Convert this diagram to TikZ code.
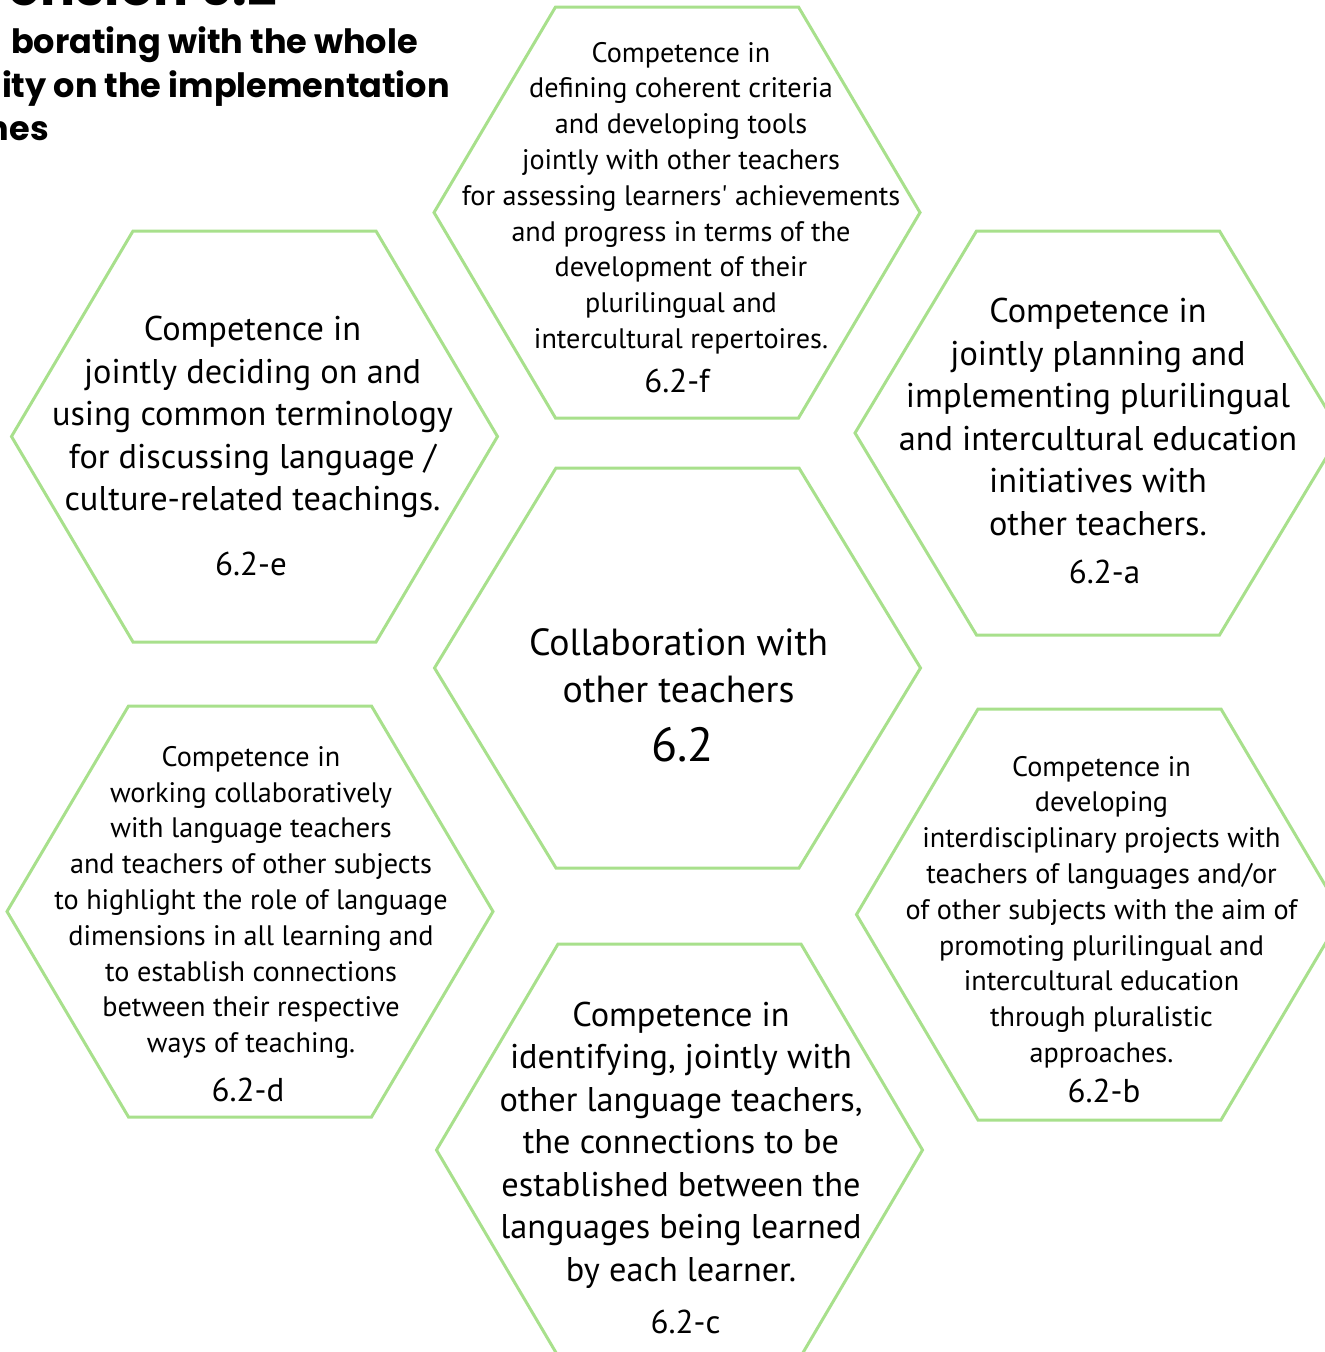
\documentclass[tikz,border=0pt]{standalone}
\usepackage{fontspec}
\setmainfont{PT Sans}
\newfontfamily\titlefont{Poppins}
\definecolor{hexgreen}{RGB}{168,224,140}
\newcommand\hexat[3]{% cx, cy, half height
  \draw[hexline] (#1-243,#2) -- (#1-121.5,#2-#3) -- (#1+121.5,#2-#3) -- (#1+243,#2)
    -- (#1+121.5,#2+#3) -- (#1-121.5,#2+#3) -- cycle;}
\tikzset{
  hexline/.style={draw=hexgreen, line width=3pt, line join=miter},
  smalltxt/.style={align=center, inner sep=0pt, font=\fontsize{28.2}{35.8}\selectfont},
  bigtxt/.style={align=center, inner sep=0pt, font=\fontsize{34.3}{42.5}\selectfont},
  centertxt/.style={align=center, inner sep=0pt, font=\fontsize{37.8}{47}\selectfont},
  codetxt/.style={inner sep=0pt, font=\fontsize{33}{40}\selectfont},
  bigcode/.style={inner sep=0pt, font=\fontsize{48}{56}\selectfont},
  titletxt/.style={inner sep=0pt, anchor=base east, font=\titlefont\bfseries\fontsize{33.5}{44}\selectfont},
  titlebig/.style={inner sep=0pt, anchor=base east, font=\titlefont\bfseries\fontsize{52}{56}\selectfont},
}
\begin{document}
\begin{tikzpicture}[x=1pt, y=-1pt]
\useasboundingbox (0,0) rectangle (1325,1352);
% hexagons
\hexat{677}{212.5}{205.5}
\hexat{677.5}{668}{200}
\hexat{1098}{433}{202}
\hexat{254.5}{436.5}{205.5}
\hexat{250}{911.5}{205.5}
\hexat{1099.5}{914.5}{205.5}
\hexat{679.5}{1150}{206}
% title fragments
\node[titlebig] (t0) at (277,5) {ension 6.2};
\node[titletxt] (t1) at (418,53) {borating with the whole};
\node[titletxt] (t2) at (450,97) {ity on the implementation};
\node[titletxt] (t3) at (49,140) {hes};
% texts
\node[smalltxt] (f) at (681,198) {Competence in\\defining coherent criteria\\and developing tools\\jointly with other teachers\\for assessing learners\textquotesingle{} achievements\\and progress in terms of the\\development of their\\plurilingual and\\intercultural repertoires.};
\node[codetxt] (fcode) at (677,381) {6.2-f};
\node[bigtxt] (e) at (252.5,417) {Competence in\\jointly deciding on and\\using common terminology\\for discussing language /\\culture-related teachings.};
\node[codetxt] (ecode) at (251,564) {6.2-e};
\node[bigtxt] (a) at (1098,417) {Competence in\\jointly planning and\\implementing plurilingual\\and intercultural education\\initiatives with\\other teachers.};
\node[codetxt] (acode) at (1104.5,572) {6.2-a};
\node[centertxt] (c0) at (678.5,665.5) {Collaboration with\\other teachers};
\node[bigcode] (c0code) at (682.5,745) {6.2};
\node[smalltxt] (d) at (251,902.5) {Competence in\\working collaboratively\\with language teachers\\and teachers of other subjects\\to highlight the role of language\\dimensions in all learning and\\to establish connections\\between their respective\\ways of teaching.};
\node[codetxt] (dcode) at (248,1090) {6.2-d};
\node[smalltxt] (b) at (1101.5,912) {Competence in\\developing\\interdisciplinary projects with\\teachers of languages and/or\\of other subjects with the aim of\\promoting plurilingual and\\intercultural education\\through pluralistic\\approaches.};
\node[codetxt] (bcode) at (1104,1091) {6.2-b};
\node[bigtxt] (c) at (681,1145) {Competence in\\identifying, jointly with\\other language teachers,\\the connections to be\\established between the\\languages being learned\\by each learner.};
\node[codetxt] (ccode) at (685.5,1322) {6.2-c};
\end{tikzpicture}
\end{document}
